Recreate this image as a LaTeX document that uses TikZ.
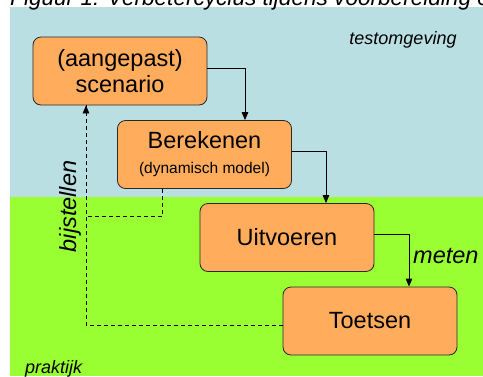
\documentclass[tikz,border=0pt]{standalone}
\usepackage{fontspec}
\setmainfont{Liberation Sans}
\usetikzlibrary{arrows.meta,calc}
\definecolor{envblue}{RGB}{185,223,227}
\definecolor{fieldgreen}{RGB}{153,255,51}
\definecolor{boxfill}{RGB}{255,173,92}
\definecolor{boxline}{RGB}{40,40,40}
\tikzset{
  stage/.style={draw=boxline, line width=0.8pt, fill=boxfill, rounded corners=8pt,
    minimum width=174pt, minimum height=68pt, inner sep=0pt, align=center,
    font=\fontsize{23.5}{26}\selectfont},
  flow/.style={draw=black, line width=0.9pt, -{Triangle[length=8pt,width=6.5pt]}},
  feedback/.style={draw=black, line width=0.8pt, dash pattern=on 4pt off 3pt},
  zone/.style={font=\fontsize{18}{20}\selectfont\itshape, inner sep=0pt},
  edgelabel/.style={font=\fontsize{23.5}{26}\selectfont\itshape, inner sep=0pt}
}
\begin{document}
\begin{tikzpicture}[x=1pt,y=-1pt]
\useasboundingbox (0,0) rectangle (483,376);
\begin{scope}
\clip (0,0) rectangle (483,376);
% environments
\fill[envblue] (10,7) rectangle (483,197);
\fill[fieldgreen] (10,197) rectangle (483,376);
% caption, cut by the page edge
\node[anchor=base west, font=\fontsize{22.6}{24}\selectfont\itshape, inner sep=0pt] (cap) at (10,5)
  {Figuur 1: Verbetercyclus tijdens voorbereiding en uitvoering};
\end{scope}

\node[zone, anchor=base] (test) at (403,44) {testomgeving};
\node[zone, anchor=base west] (prak) at (25,373) {praktijk};

% stages of the cycle
\node[stage] (b1) at (120,71) {(aangepast)\\scenario};
\node[stage] (b2) at (204.5,154.5) {Berekenen\\[-1pt]{\fontsize{15.5}{17}\selectfont (dynamisch model)}};
\node[stage] (b3) at (287,237.5) {Uitvoeren};
\node[stage] (b4) at (370,321) {Toetsen};

% forward flow
\draw[flow] ($(b1.east)+(0,-3)$) -| ($(b2.north)+(40.5,0)$);
\draw[flow] ($(b2.east)+(0,-3.5)$) -| ($(b3.north)+(39,0)$);
\draw[flow] ($(b3.east)+(0,-3.5)$) -| ($(b4.north)+(39,0)$);
\node[edgelabel, anchor=base west] (meten) at (413,263) {meten};

% feedback loop
\coordinate (fb) at ($(b1.south)+(-34,0)$);
\coordinate (corner) at (fb |- b4.west);
\draw[feedback] ($(b4.west)+(0,4)$) -- ($(corner)+(0,4)$) -- (fb);
\draw[black, line width=0.8pt, -{Triangle[length=8pt,width=6.5pt]}] ($(fb)+(0,8)$) -- (fb);
\draw[feedback] ($(b2.south)+(-42.5,0)$) |- ($(fb)+(0,111)$);
\node[edgelabel, rotate=90, anchor=base] (bij) at (76,206.5) {bijstellen};
\end{tikzpicture}
\end{document}
